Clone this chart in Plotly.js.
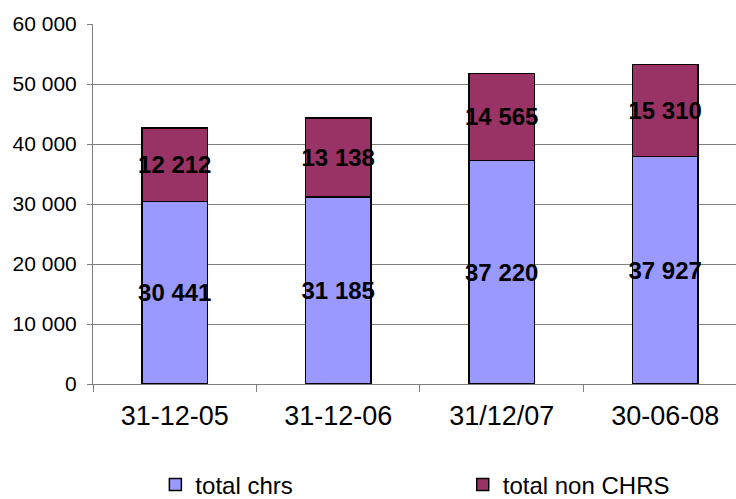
<!DOCTYPE html>
<html><head><meta charset="utf-8">
<script src="https://cdn.plot.ly/plotly-3.0.1.min.js"></script>
<style>html,body{margin:0;padding:0;background:#fff}#chart{width:736px;height:499px}</style>
</head><body><div id="chart"></div>
<script>
const categories = ['31-12-05', '31-12-06', '31/12/07', '30-06-08'];
const totalChrs = [30441, 31185, 37220, 37927];
const totalNonChrs = [12212, 13138, 14565, 15310];
const seriesNames = ['total chrs', 'total non CHRS'];
const yTicks = [0, 10000, 20000, 30000, 40000, 50000, 60000];

const font = 'Liberation Sans, Arial, sans-serif';
const barCommon = {
  type: 'bar', x: categories, width: 0.4,
  texttemplate: '%{y:,}', textposition: 'inside', insidetextanchor: 'middle',
  constraintext: 'none', textangle: 0,
  textfont: {family: font, size: 24, color: '#000', weight: 'bold'},
  hoverinfo: 'skip'
};
const data = [
  Object.assign({}, barCommon, {y: totalChrs, name: seriesNames[0], legend: 'legend',
    marker: {color: '#9999FF', line: {color: '#000', width: 1.5}}}),
  Object.assign({}, barCommon, {y: totalNonChrs, name: seriesNames[1], legend: 'legend2',
    marker: {color: '#993366', line: {color: '#000', width: 1.5}}})
];
const legendCommon = {
  orientation: 'h', xanchor: 'left', y: -0.28, yanchor: 'middle',
  font: {size: 24, family: font, color: '#000'}, itemwidth: 30,
  bgcolor: 'rgba(0,0,0,0)'
};
const layout = {
  width: 736, height: 499, barmode: 'stack', separators: ', ',
  margin: {l: 93, r: 0, t: 24, b: 115, autoexpand: false},
  paper_bgcolor: '#fff', plot_bgcolor: '#fff',
  font: {family: font, color: '#000'},
  xaxis: {
    type: 'category', range: [-0.5, 3.433], tickson: 'boundaries',
    ticks: 'outside', ticklen: 7, tickcolor: '#808080', tickwidth: 1,
    showline: true, linecolor: '#808080', linewidth: 1,
    showgrid: false, tickfont: {size: 27, family: font, color: '#000'},
    ticklabelstandoff: 8, fixedrange: true, automargin: false
  },
  yaxis: {
    range: [0, 60000], tickvals: yTicks, tickformat: ',',
    ticks: 'outside', ticklen: 5, tickcolor: '#808080', tickwidth: 1,
    showline: true, linecolor: '#808080', linewidth: 1,
    showgrid: true, gridcolor: '#808080', gridwidth: 1, zeroline: false,
    tickfont: {size: 21, family: font, color: '#000'},
    ticklabelstandoff: 6, fixedrange: true, automargin: false
  },
  showlegend: true,
  legend: Object.assign({}, legendCommon, {x: 0.097}),
  legend2: Object.assign({}, legendCommon, {x: 0.575})
};
Plotly.newPlot('chart', data, layout, {displayModeBar: false, staticPlot: true});
</script></body></html>
